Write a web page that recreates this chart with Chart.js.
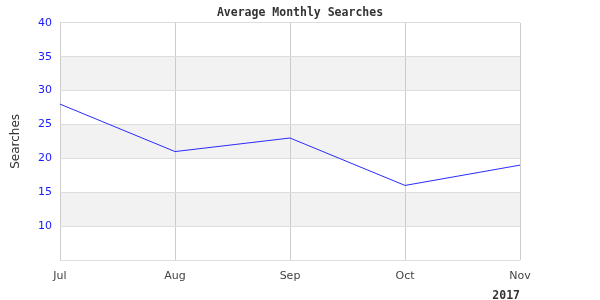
<!DOCTYPE html>
<html>
<head>
<meta charset="utf-8">
<script src="https://cdn.jsdelivr.net/npm/chart.js@4"></script>
<style>
html,body{margin:0;padding:0;background:#fff;}
#wrap{width:600px;height:300px;}
</style>
</head>
<body>
<div id="wrap"><canvas id="c" width="600" height="300"></canvas></div>
<script>
const categories = ['Jul', 'Aug', 'Sep', 'Oct', 'Nov'];
const searches = [28, 21, 23, 16, 19];
const yTicks = [10, 15, 20, 25, 30, 35, 40];
const bandRanges = [[10, 15], [20, 25], [30, 35]];
const titleText = 'Average Monthly Searches';
const yTitle = 'Searches';
const xTitle = '2017';

const bands = {
  id: 'bands',
  beforeDraw(chart) {
    const {ctx, chartArea, scales} = chart;
    const y = scales.y;
    ctx.save();
    ctx.fillStyle = '#f2f2f2';
    bandRanges.forEach(([a, b]) => {
      const y1 = y.getPixelForValue(b), y2 = y.getPixelForValue(a);
      ctx.fillRect(chartArea.left, y1, chartArea.right - chartArea.left, y2 - y1);
    });
    ctx.restore();
  }
};

new Chart(document.getElementById('c'), {
  type: 'line',
  data: {
    labels: categories,
    datasets: [{
      data: searches,
      borderColor: '#2b2bff',
      borderWidth: 1,
      pointRadius: 0,
      tension: 0,
      fill: false
    }]
  },
  options: {
    responsive: false,
    animation: false,
    devicePixelRatio: 1,
    layout: {padding: {left: 0, right: 0, top: 0, bottom: 0}},
    plugins: {
      legend: {display: false},
      tooltip: {enabled: false},
      title: {
        display: true,
        text: titleText,
        color: '#333',
        font: {family: 'DejaVu Sans Mono', size: 11.5, weight: 'bold', lineHeight: 1.2},
        padding: {top: 6, bottom: 3}
      }
    },
    scales: {
      x: {
        grid: {color: '#cccccc', drawTicks: false},
        border: {display: false},
        ticks: {
          color: '#444',
          font: {family: 'DejaVu Sans', size: 11},
          padding: 10,
          autoSkip: false,
          maxRotation: 0
        },
        title: {
          display: true,
          text: xTitle,
          align: 'end',
          color: '#333',
          font: {family: 'DejaVu Sans Mono', size: 11.5, weight: 'bold', lineHeight: 0.65},
          padding: {top: 0, bottom: 0}
        },
        afterFit(s) { s.height = 40; }
      },
      y: {
        min: 5,
        max: 40,
        afterBuildTicks(s) { s.ticks = [5].concat(yTicks).map(v => ({value: v})); },
        grid: {color: '#dddddd', drawTicks: false},
        border: {display: false},
        ticks: {
          color: '#1a1aff',
          font: {family: 'DejaVu Sans', size: 11},
          padding: 8,
          callback: v => (yTicks.includes(v) ? String(v) : '')
        },
        title: {
          display: true,
          text: yTitle,
          color: '#333',
          font: {family: 'DejaVu Sans', size: 12},
          padding: {top: 9, bottom: 0}
        },
        afterFit(s) { s.width = 60; }
      },
      rightSpace: {
        position: 'right',
        display: true,
        grid: {display: false},
        border: {display: false},
        ticks: {display: false},
        afterFit(s) { s.width = 80; }
      }
    }
  },
  plugins: [bands]
});
</script>
</body>
</html>
